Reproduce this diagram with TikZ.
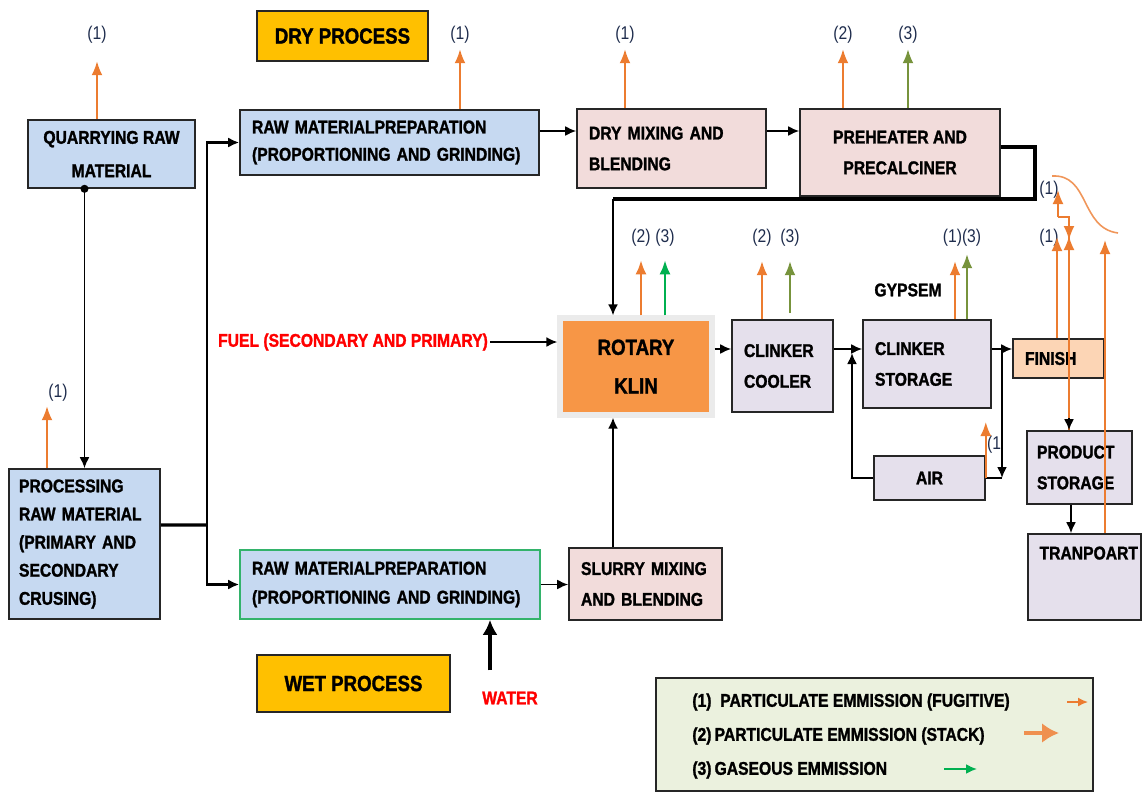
\documentclass[tikz,border=0pt]{standalone}
\usepackage{fontspec}
\setmainfont{Liberation Sans}[FakeStretch=0.85, BoldFeatures={FakeBold=1.4}]
\usepackage{xcolor}
\usetikzlibrary{arrows.meta,positioning,calc}

\definecolor{boxblue}{HTML}{C6D9F1}
\definecolor{boxpink}{HTML}{F2DCDB}
\definecolor{boxlav}{HTML}{E5E0EC}
\definecolor{boxpeach}{HTML}{FCD5B5}
\definecolor{klinorange}{HTML}{F79646}
\definecolor{titleyellow}{HTML}{FFC000}
\definecolor{legendgreen}{HTML}{EBF1DE}
\definecolor{fugorange}{HTML}{EC7C30}
\definecolor{gasolive}{HTML}{77933C}
\definecolor{gasgreen}{HTML}{00B050}
\definecolor{lblblue}{HTML}{1F2D4D}
\definecolor{wetgreen}{HTML}{33B36B}

\tikzset{
  box/.style={draw=black!85, line width=0.9pt, inner xsep=0.24cm, inner ysep=0pt,
    font=\bfseries\fontsize{10.5}{16.5}\selectfont},
  boxl/.style={box, align=left},
  boxc/.style={box, align=center},
  flow/.style={line width=1.1pt, -{Latex[length=2.2mm,width=2mm]}},
  fug/.style={fugorange, line width=1.1pt, -{Latex[length=2.8mm,width=2.2mm]}},
  gas/.style={fug, gasgreen},
  gasol/.style={fug, gasolive},
  lbl/.style={text=lblblue, font=\fontsize{10.5}{12}\selectfont, inner sep=1pt},
  redtxt/.style={text=red, font=\bfseries\fontsize{10.5}{12}\selectfont},
}

\begin{document}
\begin{tikzpicture}[x=0.02cm, y=-0.02cm]
\useasboundingbox (0,0) rectangle (1143,792);

% titles
\node[boxc, fill=titleyellow, minimum width=3.42cm, minimum height=1cm,
  font=\bfseries\fontsize{12.5}{14}\selectfont] (dry) at (342.5,36) {DRY PROCESS};
\node[boxc, fill=titleyellow, minimum width=3.86cm, minimum height=1.14cm,
  font=\bfseries\fontsize{12.5}{14}\selectfont] (wet) at (353.5,683.5) {WET PROCESS};

% raw material
\node[boxc, fill=boxblue, minimum width=3.34cm, minimum height=1.36cm,
  font=\bfseries\fontsize{10.5}{19}\selectfont] (quarry) at (111.5,154) {QUARRYING RAW\\MATERIAL};
\node[boxl, fill=boxblue, inner xsep=0.2cm, text width=2.62cm, minimum height=3cm,
  font=\bfseries\fontsize{10.5}{16}\selectfont] (process) at (84.5,544)
  {PROCESSING\\RAW MATERIAL\\(PRIMARY AND\\SECONDARY\\CRUSING)};

% dry process line
\node[boxl, fill=boxblue, text width=5.5cm, minimum height=1.3cm,
  font=\bfseries\fontsize{10.5}{15.5}\selectfont] (dryprep) at (389.5,142.5)
  {RAW MATERIALPREPARATION\\(PROPORTIONING AND GRINDING)};
\node[boxl, fill=boxpink, text width=3.3cm, minimum height=1.58cm,
  font=\bfseries\fontsize{10.5}{17.5}\selectfont] (drymix) at (671.5,148.5) {DRY MIXING AND\\BLENDING};
\node[boxc, fill=boxpink, minimum width=4cm, minimum height=1.74cm,
  font=\bfseries\fontsize{10.5}{17.5}\selectfont] (preheat) at (900,152.5) {PREHEATER AND\\PRECALCINER};

% wet process line
\node[boxl, fill=boxblue, draw=wetgreen, text width=5.52cm, minimum height=1.38cm] (wetprep) at (390,584.5)
  {RAW MATERIALPREPARATION\\(PROPORTIONING AND GRINDING)};
\node[boxl, fill=boxpink, text width=2.58cm, minimum height=1.44cm,
  font=\bfseries\fontsize{10.5}{17.5}\selectfont] (slurry) at (645.5,584) {SLURRY MIXING\\AND BLENDING};

% kiln and after
\node[boxc, fill=klinorange, draw=black!8, line width=3pt, minimum width=3.04cm, minimum height=1.94cm,
  font=\bfseries\fontsize{12.5}{22}\selectfont] (klin) at (636,366.5) {ROTARY\\KLIN};
\node[boxl, fill=boxlav, text width=1.54cm, minimum height=1.84cm,
  font=\bfseries\fontsize{10.5}{17.5}\selectfont] (cooler) at (782.5,366) {CLINKER\\COOLER};
\node[boxl, fill=boxlav, text width=2.08cm, minimum height=1.76cm,
  font=\bfseries\fontsize{10.5}{17.5}\selectfont] (storage) at (927,364) {CLINKER\\STORAGE};
\node[boxl, fill=boxpeach, text width=1.34cm, minimum height=0.78cm] (finish) at (1058.5,358.5) {FINISH};
\node[boxc, fill=boxlav, minimum width=2.22cm, minimum height=0.88cm] (air) at (929.5,478) {AIR};
\node[boxl, fill=boxlav, inner xsep=0.2cm, text width=1.7cm, minimum height=1.46cm,
  font=\bfseries\fontsize{10.5}{17.5}\selectfont] (prodstore) at (1079.5,467.5) {PRODUCT\\STORAGE};
\node[box, fill=boxlav, minimum width=2.26cm, minimum height=1.72cm] (transport) at (1084.5,577) {};
\node[anchor=north west, inner sep=0pt, font=\bfseries\fontsize{10.5}{12}\selectfont] (transporttxt)
  at ([xshift=0.24cm,yshift=-0.26cm]transport.north west) {TRANPOART};

% free texts
\node[redtxt] (fuel) at (353,342) {FUEL (SECONDARY AND PRIMARY)};
\node[redtxt] (water) at (510,698) {WATER};
\node[font=\bfseries\fontsize{10.5}{12}\selectfont] (gypsem) at (908,290) {GYPSEM};

% material flow
\fill (quarry.south -| process.north) circle (2.3pt);
\draw[flow] (quarry.south -| process.north) -- (process.north);
\coordinate (split) at (207,525);
\draw[line width=1.8pt] ([yshift=0.38cm]process.east) -- (split);
\draw[flow, line width=1.6pt] (split) |- (dryprep.west);
\draw[flow, line width=1.6pt] (split) |- (wetprep.west);
\draw[flow] (dryprep.east |- 0,131) -- (drymix.west |- 0,131);
\draw[flow] (drymix.east |- 0,131) -- (preheat.west |- 0,131);
\coordinate (loop) at (613,199);
\draw[line width=2.4pt] (preheat.east |- 0,147) -| (1035,199) -- (loop);
\draw[flow] (loop) -- (loop |- klin.north);
\draw[flow] ([xshift=-0.08cm]fuel.east) -- (klin.west |- fuel.east);
\draw[flow] (wetprep.east) -- (slurry.west |- wetprep.east);
\draw[flow] (loop |- slurry.north) -- (loop |- klin.south);
\draw[line width=2.4pt, -{Latex[length=3mm,width=3mm]}] ([xshift=-0.4cm,yshift=0.3cm]water.north)
  -- ([xshift=-0.4cm]water.north |- wetprep.south);
\draw[flow] (klin.east |- 0,349) -- (cooler.west |- 0,349);
\draw[flow] (cooler.east |- 0,349) -- (storage.west |- 0,349);
\draw[flow] (storage.east |- 0,349) -- (finish.west |- 0,349);
\coordinate (drop) at (1002,349);
\draw[flow] (drop) -- (drop |- air.east);
\draw[line width=1.1pt] (air.east) -- (drop |- air.east);
\coordinate (airin) at (852,353);
\draw[flow] (air.west) -| (airin);
\draw[flow] (prodstore.south -| 1071,0) -- (transport.north -| 1071,0);

% emissions
\node[lbl] (e1) at (97,35) {(1)};
\draw[fug] (quarry.north -| e1) -- ++(0,-58);
\node[lbl] (e2) at (460,35) {(1)};
\draw[fug] (dryprep.north -| e2) -- ++(0,-60);
\node[lbl] (e3) at (625,35) {(1)};
\draw[fug] (drymix.north -| e3) -- ++(0,-59);
\node[lbl] (e4) at (843,35) {(2)};
\draw[fug] (preheat.north -| e4) -- ++(0,-59);
\node[lbl] (e5) at (908,35) {(3)};
\draw[gasol] (preheat.north -| e5) -- ++(0,-59);
\node[lbl] (e6) at (641,238) {(2)};
\draw[fug] (klin.north -| e6) -- ++(0,-55);
\node[lbl] (e7) at (665,238) {(3)};
\draw[gas] (klin.north -| e7) -- ++(0,-55);
\node[lbl] (e8) at (762,238) {(2)};
\draw[fug] (cooler.north -| e8) -- ++(0,-58);
\node[lbl] (e9) at (790,238) {(3)};
\draw[gasol] ([yshift=0.12cm]cooler.north -| e9) -- ++(0,-52);
\node[lbl] (e10) at (962,238) {(1)(3)};
\draw[fug] (storage.north -| 955,0) -- ++(0,-58);
\draw[gasol] (storage.north -| 967,0) -- ++(0,-65);
\node[lbl] (e11) at (58,393) {(1)};
\draw[fug] (process.north -| 47,0) -- ++(0,-62);
\node[lbl] (e12) at (994,445) {(1};
\draw[fug] (air.east) -- ++(0,-56);

% finish and product storage emissions
\node[lbl] (e13) at (1049,238) {(1)};
\draw[fug] (finish.north -| 1057,0) -- (1057,237);
\node[lbl] (e14) at (1049,190) {(1)};
\draw[fugorange, line width=1.1pt] (prodstore.north -| 1069,0) -- (1069,217) -- (1058,217);
\draw[fug] (1058,217) -- (1058,190);
\draw[fug] (1069,226) -- (1069,240);
\draw[fug] (1069,252) -- (1069,236);
\draw[flow] (1069,418) -- (prodstore.north -| 1069,0);
\draw[fug] (transport.north -| 1105,0) -- (1105,240);
\draw[fugorange!80, line width=0.9pt] (1052,176) .. controls (1090,174) and (1080,228) .. (1118,233);

% legend
\node[draw=black!85, line width=0.9pt, fill=legendgreen, minimum width=8.74cm, minimum height=2.26cm] (legend) at (874.5,734.5) {};
\node[anchor=west, inner sep=0pt, font=\bfseries\fontsize{10.5}{12}\selectfont] (leg1) at (692,702) {(1)\ \ PARTICULATE EMMISSION (FUGITIVE)};
\node[anchor=west, inner sep=0pt, font=\bfseries\fontsize{10.5}{12}\selectfont] (leg2) at (692,736) {(2)\,PARTICULATE EMMISSION (STACK)};
\node[anchor=west, inner sep=0pt, font=\bfseries\fontsize{10.5}{12}\selectfont] (leg3) at (692,770) {(3)\,GASEOUS EMMISSION};
\draw[fugorange, line width=0.9pt, -{Latex[length=2mm,width=1.8mm]}] (1067,702) -- (1088,702);
\draw[fugorange!85, line width=2.6pt, -{Latex[length=3.4mm,width=4mm]}] (1024,733) -- (1059,733);
\draw[gasgreen, line width=1.1pt, -{Latex[length=2.2mm,width=2mm]}] (944,769) -- (977,769);
\end{tikzpicture}
\end{document}
